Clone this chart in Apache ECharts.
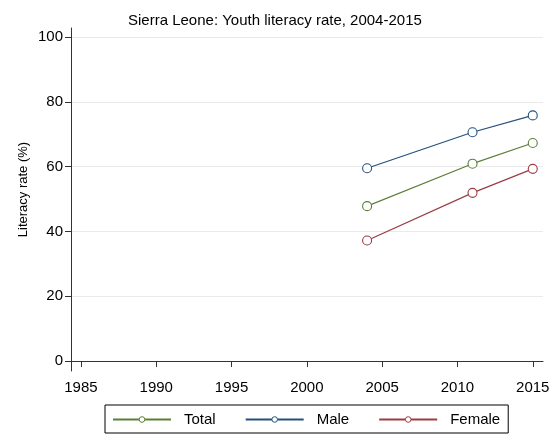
<!DOCTYPE html>
<html><head><meta charset="utf-8">
<script src="https://cdn.jsdelivr.net/npm/echarts@6/dist/echarts.min.js"></script>
<style>html,body{margin:0;padding:0;background:#fff}#c{width:557px;height:435px}</style>
</head><body><div id="c"></div>
<script>
const years = [2004, 2011, 2015];
const total = [47.8, 60.9, 67.3];
const male = [59.5, 70.6, 75.8];
const female = [37.2, 51.9, 59.3];
const xTicks = [1985, 1990, 1995, 2000, 2005, 2010, 2015];
const yTicks = [0, 20, 40, 60, 80, 100];

const font = 'Liberation Sans, Arial, sans-serif';
const colors = {Total: '#5b7f36', Male: '#23507c', Female: '#9c3c44'};
function mk(name, vals) {
  return {
    name, type: 'line', data: years.map((y, i) => [y, vals[i]]),
    symbol: 'circle', symbolSize: 9,
    lineStyle: {width: 1.2, color: colors[name]},
    itemStyle: {color: '#fff', borderColor: colors[name], borderWidth: 1.1},
    emphasis: {disabled: true}, animation: false
  };
}
const chart = echarts.init(document.getElementById('c'));
chart.setOption({
  animation: false,
  title: {text: 'Sierra Leone: Youth literacy rate, 2004-2015', left: 123, top: 8,
    textStyle: {fontFamily: font, fontSize: 15, fontWeight: 'normal', color: '#000'}},
  grid: {left: 71, right: 14, top: 28, bottom: 64},
  xAxis: {type: 'value', min: 1984.34, max: 2015.68,
    axisLine: {show: true, lineStyle: {color: '#333', width: 1}},
    axisTick: {show: true, length: 6, customValues: xTicks, lineStyle: {color: '#333'}},
    axisLabel: {customValues: xTicks, formatter: v => String(v), fontFamily: font, fontSize: 15, color: '#000', margin: 9},
    splitLine: {show: false}},
  yAxis: {type: 'value', min: -3.09, max: 102.78,
    name: 'Literacy rate (%)', nameLocation: 'middle', nameGap: 41, nameMoveOverlap: false,
    nameTextStyle: {fontFamily: font, fontSize: 13, color: '#000', padding: [0, 0, 0, 20]},
    axisLine: {show: true, lineStyle: {color: '#333', width: 1}},
    axisTick: {show: true, length: 6, customValues: yTicks, lineStyle: {color: '#333'}},
    axisLabel: {customValues: yTicks, formatter: v => String(v), fontFamily: font, fontSize: 15, color: '#000', margin: 8},
    splitLine: {show: true, customValues: yTicks, lineStyle: {color: '#eaeaea', width: 1}}},
  legend: {left: 105, top: 405, padding: [7, 8, 6, 7], borderColor: '#000', borderWidth: 1,
    itemWidth: 58, itemHeight: 7, itemGap: 29,
    itemStyle: {borderWidth: 1, color: '#fff'},
    textStyle: {fontFamily: font, fontSize: 15, color: '#000', padding: [0, 0, 0, 8]},
    data: ['Total', 'Male', 'Female']},
  series: [mk('Total', total), mk('Male', male), mk('Female', female)]
});
</script></body></html>
